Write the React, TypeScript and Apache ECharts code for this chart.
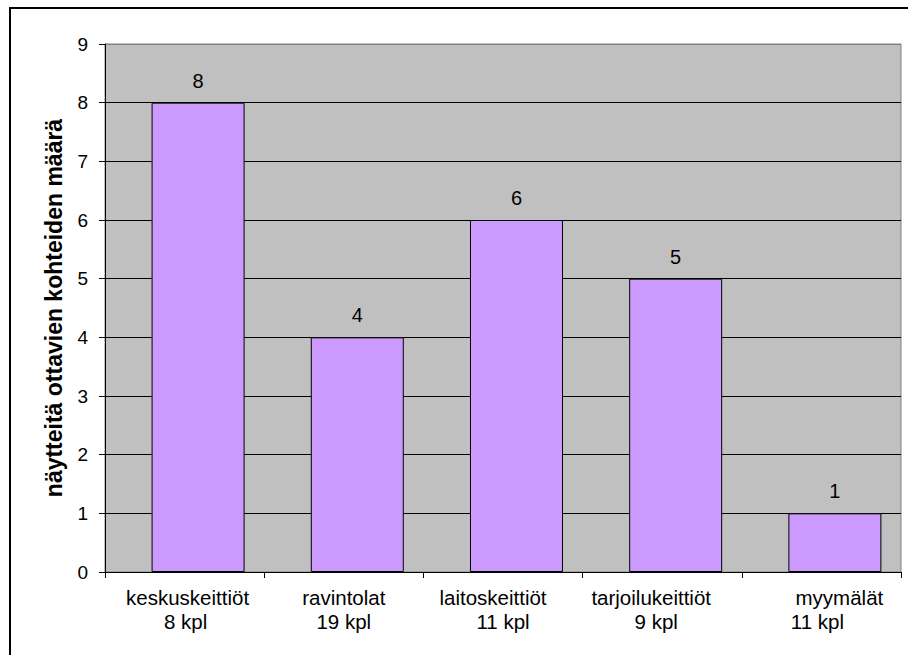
import React, { useEffect, useRef } from "react";
import * as echarts from "echarts";

const categories = ["keskuskeittiöt", "ravintolat", "laitoskeittiöt", "tarjoilukeittiöt", "myymälät"];
const siteCounts = ["8 kpl", "19 kpl", "11 kpl", "9 kpl", "11 kpl"];
const values = [8, 4, 6, 5, 1];
const yTicks = [0, 1, 2, 3, 4, 5, 6, 7, 8, 9];
const yTitle = "näytteitä ottavien kohteiden määrä";

// horizontal nudges (px) of label lines, [name line, count line]
const labelShift: [number, number][] = [
  [3, 1],
  [0, 0],
  [-10, 0],
  [-11, -6],
  [18, -4],
];

const FONT = "'Liberation Sans', Arial, sans-serif";

function pad(s: number): number[] {
  return s >= 0 ? [0, 0, 0, 2 * s] : [0, -2 * s, 0, 0];
}

export default function App() {
  const ref = useRef<HTMLDivElement>(null);
  useEffect(() => {
    if (!ref.current) return;
    const chart = echarts.init(ref.current, null, { renderer: "svg" });
    const rich: Record<string, any> = {};
    categories.forEach((_, i) => {
      rich["n" + i] = { fontSize: 20.5, fontFamily: FONT, color: "#000", lineHeight: 24, padding: pad(labelShift[i][0]) };
      rich["c" + i] = { fontSize: 20.5, fontFamily: FONT, color: "#000", lineHeight: 24, padding: pad(labelShift[i][1]) };
    });
    const splitColors = yTicks.map((t, i) => (i === yTicks.length - 1 ? "#808080" : "#000000"));
    chart.setOption({
      animation: false,
      backgroundColor: "#ffffff",
      textStyle: { fontFamily: FONT },
      graphic: [
        {
          type: "rect",
          shape: { x: 10, y: 8, width: 1000, height: 1000 },
          style: { fill: "none", stroke: "#000", lineWidth: 2 },
          silent: true,
        },
      ],
      grid: {
        left: 105,
        top: 44,
        right: 7,
        bottom: 83,
        show: true,
        backgroundColor: "#c0c0c0",
        borderColor: "#808080",
        borderWidth: 1,
      },
      xAxis: {
        type: "category",
        data: categories,
        axisLine: { show: true, lineStyle: { color: "#000", width: 1 } },
        axisTick: { show: true, length: 6, lineStyle: { color: "#000" } },
        axisLabel: {
          margin: 13,
          interval: 0,
          formatter: (v: string, i: number) => `{n${i}|${v}}\n{c${i}|${siteCounts[i]}}`,
          rich,
        },
        splitLine: { show: false },
      },
      yAxis: {
        type: "value",
        min: 0,
        max: 9,
        interval: 1,
        name: yTitle,
        nameLocation: "middle",
        nameGap: 40,
        nameTextStyle: { fontSize: 23, fontWeight: "bold", color: "#000", fontFamily: FONT },
        axisLine: { show: true, lineStyle: { color: "#000", width: 1 } },
        axisTick: { show: true, length: 6, lineStyle: { color: "#000" } },
        axisLabel: { fontSize: 19, color: "#000", margin: 17, fontFamily: FONT },
        splitLine: { show: true, lineStyle: { color: splitColors, width: 1 } },
      },
      series: [
        {
          name: "offset",
          type: "bar",
          data: [],
          barWidth: 93,
          silent: true,
          itemStyle: { color: "transparent" },
        },
        {
          name: "määrä",
          type: "bar",
          data: values,
          barWidth: 93,
          barGap: "-71%",
          itemStyle: { color: "#cc99ff", borderColor: "#000", borderWidth: 1 },
          label: { show: true, position: "top", distance: 12, fontSize: 20, color: "#000", fontFamily: FONT },
        },
      ],
    });
    return () => chart.dispose();
  }, []);
  return <div ref={ref} style={{ position: "absolute", left: 0, top: 0, width: 908, height: 655 }} />;
}
